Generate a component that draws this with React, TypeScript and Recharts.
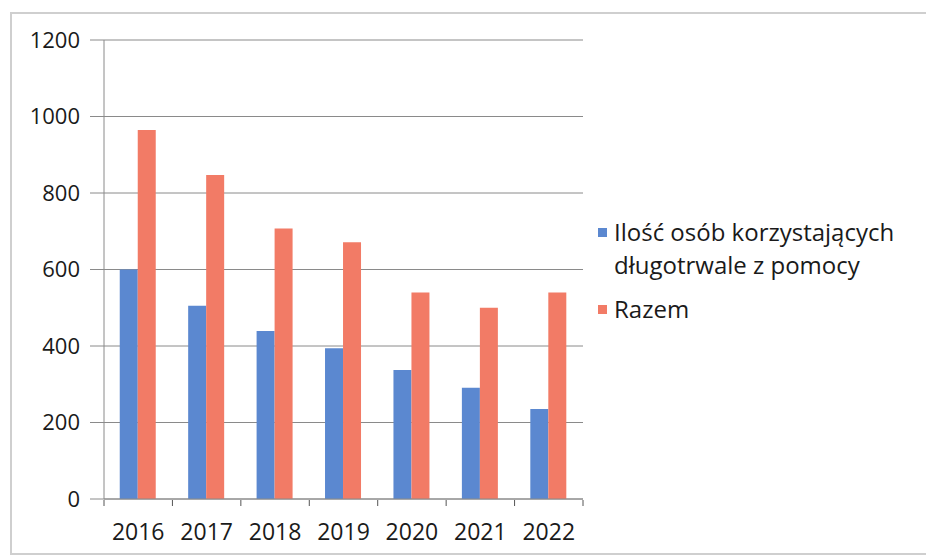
import { BarChart, Bar, XAxis, YAxis, CartesianGrid, Legend } from "recharts";

const years = ["2016", "2017", "2018", "2019", "2020", "2021", "2022"];
const dlugotrwale = [600, 505, 439, 394, 337, 291, 235];
const razem = [965, 847, 707, 671, 540, 500, 540];
const yTicks = [0, 200, 400, 600, 800, 1000, 1200];
const boundaryTicks = [0, 1, 2, 3, 4, 5, 6, 7];

const data = years.map((year, i) => ({
  year,
  idx: i + 0.5,
  dlugotrwale: dlugotrwale[i],
  razem: razem[i],
}));

const FONT = "'Open Sans', sans-serif";

function LegendContent({ payload }: any) {
  return (
    <div style={{ fontFamily: FONT, fontSize: 24, color: "#1a1a1a", width: 320 }}>
      {(payload || []).map((item: any, i: number) => (
        <div
          key={i}
          style={{ display: "flex", alignItems: "flex-start", marginBottom: 11, lineHeight: "33px" }}
        >
          <span
            style={{
              display: "inline-block",
              width: 9,
              height: 9,
              background: item.color,
              marginTop: 13,
              marginRight: 7,
              flexShrink: 0,
            }}
          />
          <span style={{ width: 300 }}>{item.value}</span>
        </div>
      ))}
    </div>
  );
}

export default function App() {
  return (
    <div style={{ position: "absolute", left: 0, top: 0, width: 926, height: 555, background: "#fff", overflow: "hidden" }}>
      <div
        style={{
          position: "absolute",
          left: 10,
          top: 12,
          width: 1000,
          height: 539,
          border: "2px solid #cfcfcf",
        }}
      />
      <BarChart
        width={926}
        height={555}
        data={data}
        margin={{ top: 40, right: 343, bottom: 54, left: 24 }}
        barCategoryGap="23%"
        barGap={0}
        style={{ position: "absolute", left: 0, top: 0 }}
      >
        <CartesianGrid vertical={false} stroke="#8a8a8a" />
        <XAxis
          dataKey="year"
          height={1}
          tickLine={false}
          axisLine={{ stroke: "#8a8a8a" }}
          tick={{ fill: "#1a1a1a", fontSize: 23, fontFamily: FONT }}
          tickMargin={19}
          interval={0}
        />
        <XAxis
          xAxisId="b"
          dataKey="idx"
          type="number"
          domain={[0, 7]}
          ticks={boundaryTicks}
          interval={0}
          height={1}
          axisLine={false}
          tickLine={{ stroke: "#555" }}
          tickSize={6}
          tickFormatter={() => ""}
        />
        <YAxis
          width={80}
          domain={[0, 1200]}
          ticks={yTicks}
          tickSize={14}
          tickMargin={10}
          axisLine={{ stroke: "#8a8a8a" }}
          tickLine={{ stroke: "#8a8a8a" }}
          tick={{ fill: "#1a1a1a", fontSize: 22, fontFamily: FONT }}
        />
        <Legend
          layout="vertical"
          align="center"
          verticalAlign="middle"
          wrapperStyle={{ left: 598, top: 215, width: 330 }}
          content={<LegendContent />}
        />
        <Bar
          dataKey="dlugotrwale"
          name="Ilość osób korzystających długotrwale z pomocy"
          fill="#5b88d0"
          isAnimationActive={false}
        />
        <Bar dataKey="razem" name="Razem" fill="#f27b66" isAnimationActive={false} />
      </BarChart>
    </div>
  );
}
